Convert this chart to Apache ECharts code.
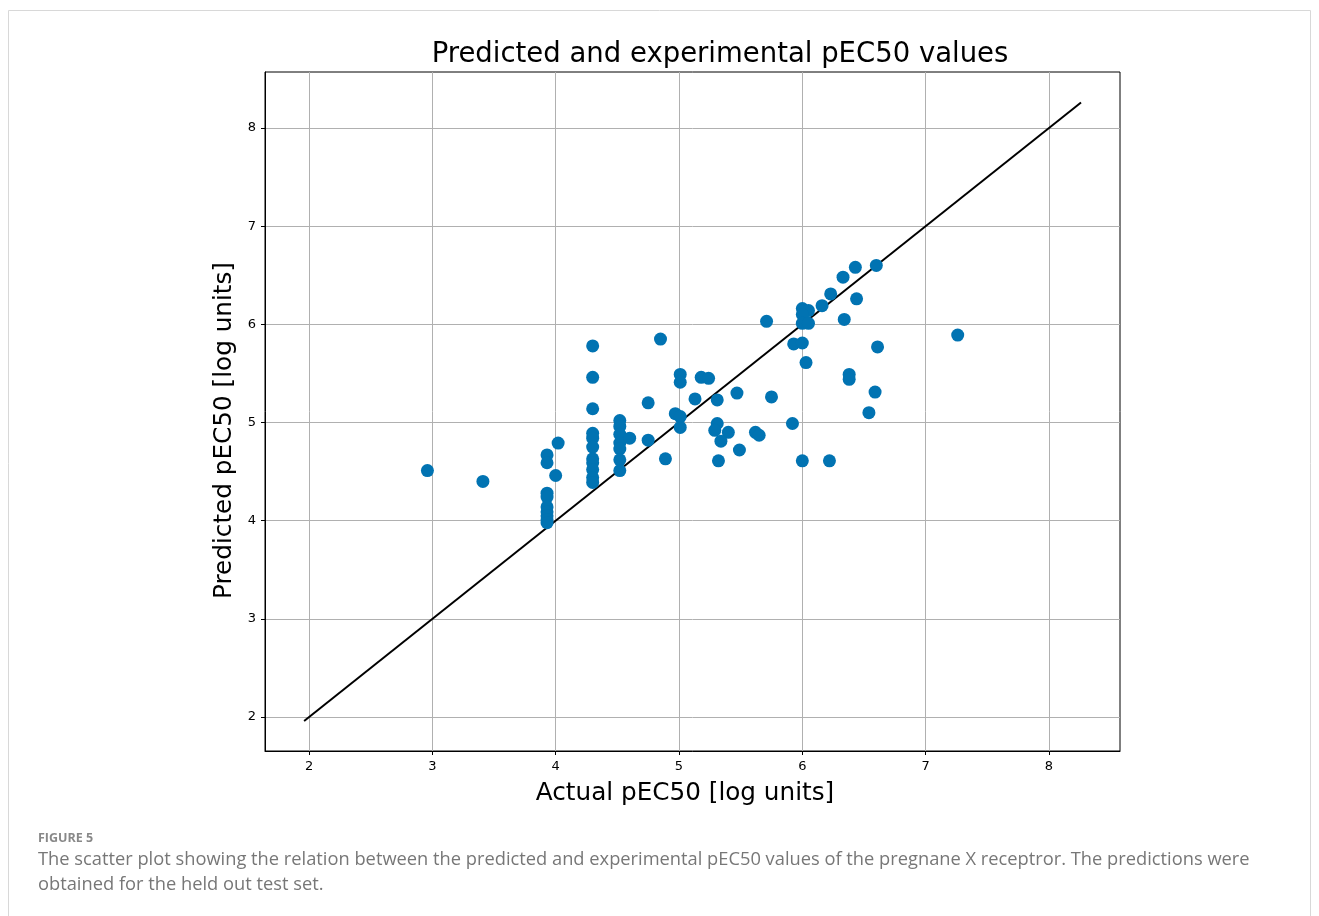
<!DOCTYPE html>
<html>
<head>
<meta charset="utf-8">
<script src="https://cdn.jsdelivr.net/npm/echarts@6/dist/echarts.min.js"></script>
<style>
  html, body {margin: 0; padding: 0; background: #fff;}
  #chart {width: 1319px; height: 916px;}
</style>
</head>
<body>
<div id="chart"></div>
<script>
// actual pEC50 (x) and predicted pEC50 (y)
let actual = [
  2.96, 3.41,
  3.93, 3.93, 3.93, 3.93, 3.93, 3.93, 3.93, 3.93, 3.93,
  4.00, 4.02,
  4.30, 4.30, 4.30, 4.30, 4.30, 4.30, 4.30, 4.30, 4.30, 4.30, 4.30,
  4.52, 4.52, 4.52, 4.52, 4.52, 4.52, 4.52,
  4.60, 4.75, 4.75, 4.85, 4.89, 4.97, 5.01, 5.01, 5.01, 5.01,
  5.18, 5.24, 5.13, 5.31, 5.47, 5.75, 5.31, 5.29, 5.40, 5.34, 5.49, 5.32,
  5.62, 5.65, 5.92, 6.00, 6.22,
  5.71, 5.93, 6.00, 6.03, 6.00, 6.05, 6.00, 6.00, 6.05,
  6.16, 6.23, 6.33, 6.43, 6.60, 6.44, 6.34, 6.61, 6.38, 6.38, 6.59, 6.54, 7.26
];
let predicted = [
  4.51, 4.40,
  4.67, 4.59, 4.28, 4.24, 4.14, 4.09, 4.05, 4.01, 3.98,
  4.46, 4.79,
  5.78, 5.46, 5.14, 4.89, 4.84, 4.75, 4.63, 4.59, 4.52, 4.44, 4.39,
  5.02, 4.96, 4.88, 4.79, 4.73, 4.62, 4.51,
  4.84, 5.20, 4.82, 5.85, 4.63, 5.09, 5.49, 5.41, 5.06, 4.95,
  5.46, 5.45, 5.24, 5.23, 5.30, 5.26, 4.99, 4.92, 4.90, 4.81, 4.72, 4.61,
  4.90, 4.87, 4.99, 4.61, 4.61,
  6.03, 5.80, 5.81, 5.61, 6.16, 6.14, 6.10, 6.01, 6.01,
  6.19, 6.31, 6.48, 6.58, 6.60, 6.26, 6.05, 5.77, 5.49, 5.44, 5.31, 5.10, 5.89
];
let tickValues = [2, 3, 4, 5, 6, 7, 8];
let diagonal = [1.96, 8.26];

let points = actual.map(function (v, i) {
  return [v, predicted[i]];
});

let chart = echarts.init(document.getElementById('chart'));

let axisCommon = {
  type: 'value',
  nameLocation: 'middle',
  axisLine: {show: true, onZero: false, lineStyle: {color: '#000', width: 1}},
  axisTick: {show: true, inside: false, length: 4, lineStyle: {color: '#000'}, customValues: tickValues},
  axisLabel: {fontSize: 13, color: '#000', fontFamily: 'DejaVu Sans', margin: 9, customValues: tickValues},
  splitLine: {show: true, lineStyle: {color: '#b0b0b0', width: 1}}
};

chart.setOption({
  animation: false,
  backgroundColor: '#fff',
  title: {
    text: 'Predicted and experimental pEC50 values',
    left: 715, top: 36, textAlign: 'center',
    textStyle: {fontSize: 27.5, fontWeight: 'normal', color: '#000', fontFamily: 'DejaVu Sans'}
  },
  grid: {left: 265, right: 199, top: 72, bottom: 165, show: true, borderColor: '#000', borderWidth: 1},
  xAxis: Object.assign({}, axisCommon, {
    name: 'Actual pEC50 [log units]', nameGap: 30, min: 1.643, max: 8.576,
    nameTextStyle: {fontSize: 24.7, color: '#000', fontFamily: 'DejaVu Sans', padding: [0, 15, 0, 0]}
  }),
  yAxis: Object.assign({}, axisCommon, {
    name: 'Predicted pEC50 [log units]', nameGap: 27, min: 1.654, max: 8.57,
    nameTextStyle: {fontSize: 24.7, color: '#000', fontFamily: 'DejaVu Sans', padding: [0, 38, 0, 0]}
  }),
  graphic: [
    {type: 'rect', shape: {x: 8.5, y: 10.5, width: 1302, height: 920}, style: {fill: 'none', stroke: '#d8d8d8', lineWidth: 1}, z: -10},
    {type: 'text', left: 38, top: 832, style: {text: 'FIGURE 5', fontSize: 12.5, fontWeight: 'bold', fill: '#888', fontFamily: 'Open Sans'}},
    {type: 'text', left: 38, top: 847, style: {
      text: 'The scatter plot showing the relation between the predicted and experimental pEC50 values of the pregnane X receptror. The predictions were\nobtained for the held out test set.',
      fontSize: 18.3, lineHeight: 25, fill: '#777', fontFamily: 'Open Sans'}}
  ],
  series: [
    {
      type: 'line',
      data: [[diagonal[0], diagonal[0]], [diagonal[1], diagonal[1]]],
      showSymbol: false, symbol: 'none',
      lineStyle: {color: '#000', width: 2},
      z: 1
    },
    {
      type: 'scatter',
      data: points,
      symbolSize: 13,
      itemStyle: {color: '#0173B2', opacity: 1},
      z: 2
    }
  ]
});
</script>
</body>
</html>
